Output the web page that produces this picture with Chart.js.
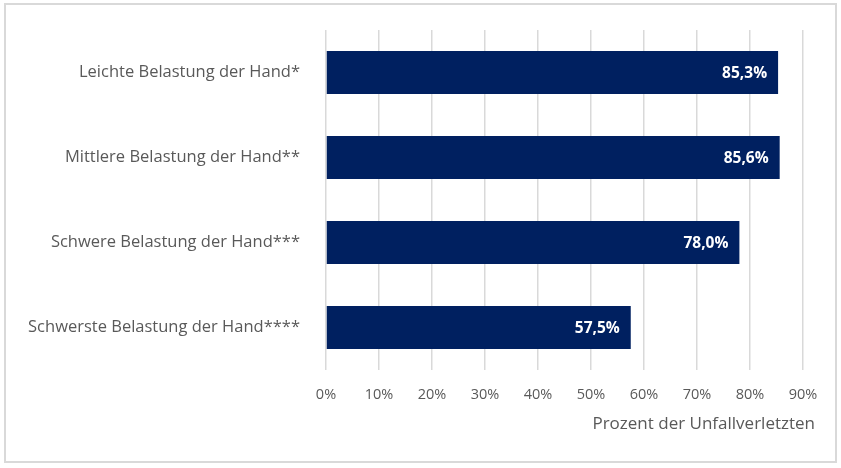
<!DOCTYPE html>
<html lang="de">
<head>
<meta charset="utf-8">
<title>Belastung der Hand</title>
<script src="https://cdn.jsdelivr.net/npm/chart.js@4/dist/chart.umd.min.js"></script>
<style>
  html, body { margin: 0; padding: 0; background: #ffffff; }
  #wrap { position: relative; width: 841px; height: 468px; }
  #frame {
    position: absolute; left: 4px; top: 3px; width: 833px; height: 460px;
    border: 2px solid #d9d9d9; box-sizing: border-box; pointer-events: none;
  }
  canvas { position: absolute; left: 0; top: 0; }
</style>
</head>
<body>
<div id="wrap">
  <canvas id="handChart" width="841" height="468"></canvas>
  <div id="frame"></div>
</div>
<script>
// Anteil der Unfallverletzten je Belastungsstufe der Hand
const categories = [
  "Leichte Belastung der Hand*",
  "Mittlere Belastung der Hand**",
  "Schwere Belastung der Hand***",
  "Schwerste Belastung der Hand****"
];
const shares = [85.3, 85.6, 78.0, 57.5];
const tickValues = [0, 10, 20, 30, 40, 50, 60, 70, 80, 90];
const axisTitle = "Prozent der Unfallverletzten";

const FONT = "'Open Sans', Lato, sans-serif";
const GREY = "#595959";
const NAVY = "#002060";

function fmtPct(v, digits) {
  return v.toFixed(digits).replace(".", ",") + "%";
}

// Writes the value inside the right end of each bar
const barValues = {
  id: "barValues",
  afterDatasetsDraw(chart) {
    const ctx = chart.ctx;
    const meta = chart.getDatasetMeta(0);
    ctx.save();
    ctx.font = "bold 15.5px " + FONT;
    ctx.fillStyle = "#ffffff";
    ctx.textAlign = "right";
    ctx.textBaseline = "middle";
    meta.data.forEach(function (bar, i) {
      ctx.fillText(fmtPct(shares[i], 1), bar.x - 11, bar.y + 1);
    });
    ctx.restore();
  }
};

// Axis title sits right-aligned under the tick labels
const xTitle = {
  id: "xTitle",
  afterDraw(chart) {
    const ctx = chart.ctx;
    const x = chart.scales.x;
    ctx.save();
    ctx.font = "17px " + FONT;
    ctx.fillStyle = GREY;
    ctx.textAlign = "right";
    ctx.textBaseline = "middle";
    ctx.fillText(axisTitle, x.right + 12, 424);
    ctx.restore();
  }
};

new Chart(document.getElementById("handChart"), {
  type: "bar",
  data: {
    labels: categories,
    datasets: [{
      data: shares,
      backgroundColor: NAVY,
      borderWidth: 0,
      barPercentage: 1,
      categoryPercentage: 0.505
    }]
  },
  plugins: [barValues, xTitle],
  options: {
    indexAxis: "y",
    responsive: false,
    animation: false,
    layout: { padding: { top: 30, right: 38, bottom: 0, left: 0 } },
    plugins: { legend: { display: false }, tooltip: { enabled: false } },
    scales: {
      x: {
        min: 0,
        max: 90,
        afterBuildTicks(scale) {
          scale.ticks = tickValues.map(function (v) { return { value: v }; });
        },
        afterFit(scale) {
          scale.height = 98;
          scale.paddingLeft = 0;
          scale.paddingRight = 0;
        },
        border: { display: false },
        grid: { color: "#d9d9d9", lineWidth: 1.5, drawTicks: false },
        ticks: {
          color: GREY,
          font: { family: FONT, size: 14.5 },
          padding: 16,
          maxRotation: 0,
          callback: function (v) { return v + "%"; }
        }
      },
      y: {
        afterFit(scale) {
          scale.width = 326;
          scale.paddingTop = 0;
          scale.paddingBottom = 0;
        },
        border: { display: false },
        grid: { display: false, drawTicks: false },
        ticks: {
          color: GREY,
          font: { family: FONT, size: 16.5 },
          padding: 26
        }
      }
    }
  }
});
</script>
</body>
</html>
